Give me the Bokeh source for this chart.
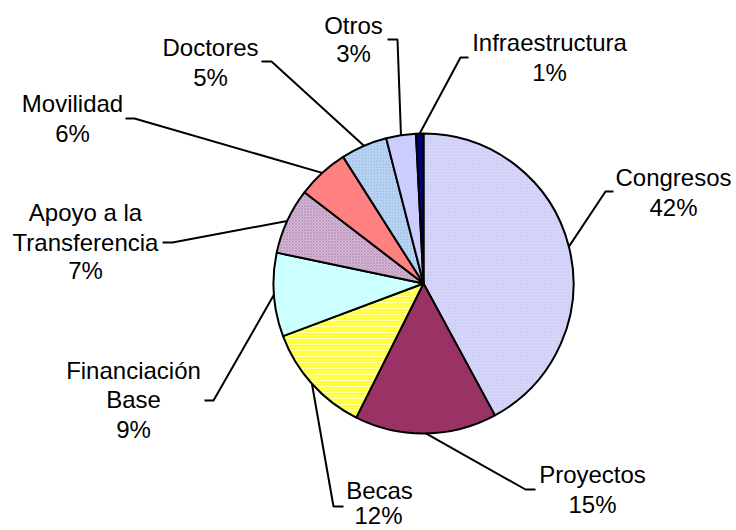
import math
from bokeh.plotting import figure
from bokeh.models import Range1d, ColumnDataSource
from bokeh.core.properties import value
from bokeh.embed import file_html
from bokeh.resources import INLINE

# ---- data ----
categories = ["Congresos", "Proyectos", "Becas", "Financiación Base",
              "Apoyo a la Transferencia", "Movilidad", "Doctores", "Otros",
              "Infraestructura"]
shares = [42.1, 15.3, 11.9, 9.0, 7.1, 5.6, 5.0, 3.2, 0.8]
pct_labels = ["42%", "15%", "12%", "9%", "7%", "6%", "5%", "3%", "1%"]
label_lines = [["Congresos"], ["Proyectos"], ["Becas"], ["Financiación", "Base"],
               ["Apoyo a la", "Transferencia"], ["Movilidad"], ["Doctores"],
               ["Otros"], ["Infraestructura"]]

# ---- styles ----
fills = ["#D6D6FA", "#993366", "#FFFF40", "#CCFFFF", "#D8B8D8", "#FF8080",
         "#C6DCF6", "#CCCCFF", "#000080"]
hatches = ["dot", None, "horizontal_line", None, "diagonal_cross", None,
           "criss_cross", None, None]
hatch_cols = ["#C4C4F0", None, "#FFFFC8", None, "#B894B8", None, "#A8C8EE", None, None]

W, H = 736, 530
def px(X, Y):
    return X, H - Y

CX, CY = px(423, 283)
R = 150

# label layout (image pixel positions): text line centers, tick start, elbow
layout = [
    dict(lines=[(673, 177), (673, 207)], tick=((613, 191), (605, 191))),
    dict(lines=[(592, 474), (592, 504)], tick=((535, 489), (525, 489))),
    dict(lines=[(379, 490), (378, 515)], tick=((343, 506), (333, 506))),
    dict(lines=[(133, 370), (133, 399), (133, 429)], tick=((204, 400), (213, 400))),
    dict(lines=[(85, 212), (85, 242), (85, 270)], tick=((162, 242), (172, 242))),
    dict(lines=[(72, 103), (72, 133)], tick=((125, 118), (134, 118))),
    dict(lines=[(210, 47), (210, 77)], tick=((261, 61), (271, 61))),
    dict(lines=[(353, 25), (353, 53)], tick=((387, 39), (397, 39))),
    dict(lines=[(549, 42), (549, 72)], tick=((468, 57), (460, 57))),
]

p = figure(width=W, height=H, x_range=Range1d(0, W), y_range=Range1d(0, H),
           x_axis_type=None, y_axis_type=None, toolbar_location=None,
           output_backend="svg", min_border=0)
p.outline_line_color = None
p.grid.visible = False
p.background_fill_color = "white"
p.border_fill_color = "white"

total = sum(shares)
cum = 0.0
starts, ends, mids = [], [], []
for s in shares:
    a0 = math.pi / 2 - 2 * math.pi * cum / total
    cum += s
    a1 = math.pi / 2 - 2 * math.pi * cum / total
    starts.append(a0)
    ends.append(a1)
    mids.append((a0 + a1) / 2)

for i in range(len(shares)):
    kw = dict(fill_color=fills[i], line_color="black", line_width=2)
    if hatches[i]:
        kw.update(hatch_pattern=hatches[i], hatch_color=hatch_cols[i],
                  hatch_scale=3, hatch_weight=0.8)
    p.wedge(x=CX, y=CY, radius=R, start_angle=starts[i], end_angle=ends[i],
            direction="clock", **kw)

# leader lines
for i, lay in enumerate(layout):
    (t0x, t0y), (t1x, t1y) = lay["tick"]
    ex = CX + R * math.cos(mids[i])
    ey = CY + R * math.sin(mids[i])
    a = px(t0x, t0y)
    b = px(t1x, t1y)
    p.line(x=[a[0], b[0], ex], y=[a[1], b[1], ey], line_color="black", line_width=2)

# labels
tx, ty, tt = [], [], []
for i, lay in enumerate(layout):
    texts = label_lines[i] + [pct_labels[i]]
    for (X, Y), t in zip(lay["lines"], texts):
        x, y = px(X, Y)
        tx.append(x); ty.append(y); tt.append(t)
src = ColumnDataSource(dict(x=tx, y=ty, text=tt))
p.text(x="x", y="y", text="text", source=src, text_align="center",
       text_baseline="middle", text_font=value("Liberation Sans"),
       text_font_size="24px", text_color="black")

open("out.html", "w").write(file_html(p, INLINE))
